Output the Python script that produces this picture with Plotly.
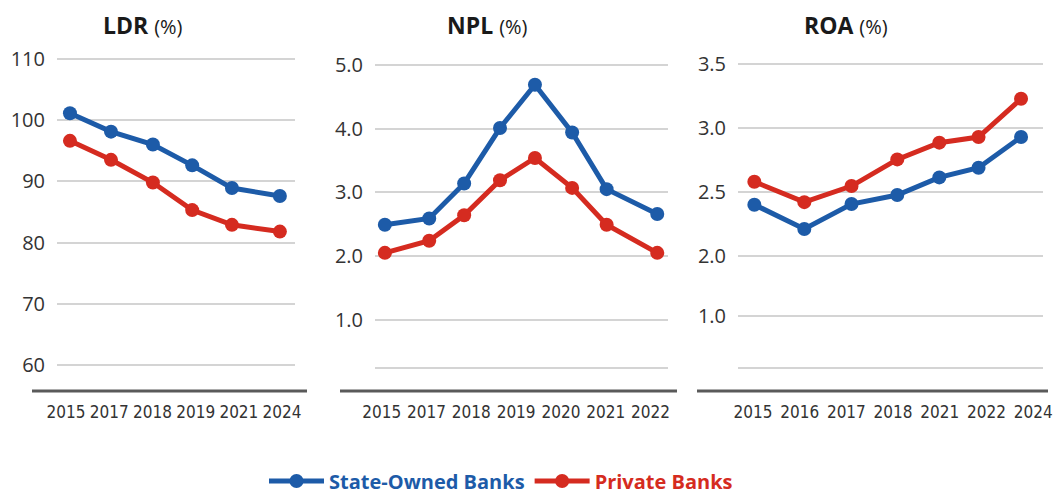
import plotly.graph_objects as go

W, H = 1054, 494

BLUE = "#1d5ba8"
RED = "#d52b20"

# ---------------- data ----------------
# LDR (%)
ldr_years = ["2015", "2017", "2018", "2019", "2021", "2024"]
ldr_x = [0.09, 1.04, 2.01, 2.92, 3.84, 4.95]          # point positions along the year axis
ldr_state = [101.1, 98.1, 96.0, 92.6, 88.9, 87.6]
ldr_private = [96.6, 93.5, 89.8, 85.3, 82.9, 81.8]
ldr_tickvals = [60, 70, 80, 90, 100, 110]
ldr_ticktext = ["60", "70", "80", "90", "100", "110"]

# NPL (%)
npl_years = ["2015", "2017", "2018", "2019", "2020", "2021", "2022"]
npl_x = [0.07, 1.06, 1.84, 2.64, 3.42, 4.25, 5.02, 6.15]
npl_state = [2.49, 2.59, 3.14, 4.01, 4.69, 3.94, 3.05, 2.66]
npl_private = [2.05, 2.24, 2.64, 3.19, 3.54, 3.07, 2.49, 2.05]
npl_tickvals = [0.24, 1, 2, 3, 4, 5]
npl_ticktext = ["", "1.0", "2.0", "3.0", "4.0", "5.0"]

# ROA (%)
roa_years = ["2015", "2016", "2017", "2018", "2021", "2022", "2024"]
roa_x = [0.03, 1.10, 2.11, 3.09, 3.99, 4.83, 5.74]
roa_state = [2.40, 2.21, 2.405, 2.476, 2.614, 2.69, 2.93]
roa_private = [2.58, 2.42, 2.546, 2.755, 2.886, 2.93, 3.23]
roa_tickvals = [1.122, 1.527, 2.0, 2.5, 3.0, 3.5]
roa_ticktext = ["", "1.0", "2.0", "2.5", "3.0", "3.5"]

series_names = ["State-Owned Banks", "Private Banks"]
titles = ["LDR", "NPL", "ROA"]

# ---------------- layout (pixels) ----------------
panels = [
    dict(px=(57, 295), xr=(-0.21, 5.30), yr=(55.8, 110.6), base=(32, 307), title_x=143,
         x=ldr_x, years=ldr_years, s=ldr_state, p=ldr_private, tv=ldr_tickvals, tt=ldr_ticktext),
    dict(px=(375, 668), xr=(-0.15, 6.39), yr=(-0.12, 5.157), base=(340, 677), title_x=487,
         x=npl_x, years=npl_years, s=npl_state, p=npl_private, tv=npl_tickvals, tt=npl_ticktext),
    dict(px=(738, 1043), xr=(-0.32, 6.21), yr=(0.94, 3.573), base=(697, 1048), title_x=846,
         x=roa_x, years=roa_years, s=roa_state, p=roa_private, tv=roa_tickvals, tt=roa_ticktext),
]
y_top_px, y_bot_px = 55, 391
ydom = [1 - y_bot_px / H, 1 - y_top_px / H]

fig = go.Figure()
layout = dict(
    template="none",
    width=W, height=H, autosize=False,
    margin=dict(l=0, r=0, t=0, b=0, pad=0, autoexpand=False),
    paper_bgcolor="white", plot_bgcolor="white",
    showlegend=True,
    legend=dict(orientation="h", xanchor="center", x=501 / W, yanchor="middle", y=1 - 481 / H,
                font=dict(family="Open Sans", size=20), itemwidth=55, tracegroupgap=0,
                bgcolor="rgba(0,0,0,0)", borderwidth=0),
)
shapes = []
annotations = []

for i, pn in enumerate(panels):
    k = "" if i == 0 else str(i + 1)
    xa, ya = "x" + k, "y" + k
    for vals, col, nm in [(pn["s"], BLUE, series_names[0]), (pn["p"], RED, series_names[1])]:
        fig.add_trace(go.Scatter(
            x=pn["x"], y=vals, mode="lines+markers", xaxis=xa, yaxis=ya,
            line=dict(color=col, width=5), marker=dict(color=col, size=14),
            name="<b><span style='color:%s'>%s</span></b>" % (col, nm),
            showlegend=(i == 0), hoverinfo="skip"))
    layout["xaxis" + k] = dict(
        domain=[pn["px"][0] / W, pn["px"][1] / W], range=list(pn["xr"]),
        tickvals=list(range(len(pn["years"]))), ticktext=pn["years"],
        showgrid=False, zeroline=False, showline=False, ticks="", automargin=False,
        tickfont=dict(family="Liberation Sans Narrow, DejaVu Sans Condensed", size=17, color="#333"),
        ticklabelstandoff=9, anchor=ya, fixedrange=True)
    layout["yaxis" + k] = dict(
        domain=ydom, range=list(pn["yr"]), tickvals=pn["tv"], ticktext=pn["tt"],
        showgrid=True, gridcolor="#d4d4d4", gridwidth=1.5, zeroline=False, showline=False,
        ticks="", automargin=False, tickfont=dict(family="Open Sans", size=20, color="#333"),
        ticklabelstandoff=11, anchor=xa, fixedrange=True)
    shapes.append(dict(type="line", xref="paper", yref="paper",
                       x0=pn["base"][0] / W, x1=pn["base"][1] / W,
                       y0=1 - y_bot_px / H, y1=1 - y_bot_px / H,
                       line=dict(color="#5a5a5a", width=3)))
    annotations.append(dict(
        xref="paper", yref="paper", x=pn["title_x"] / W, y=1 - 25 / H,
        xanchor="center", yanchor="middle", showarrow=False,
        text="<b>%s</b> <span style='font-size:20px'>(%%)</span>" % titles[i],
        font=dict(family="Open Sans", size=23, color="#1a1a1a")))

layout["shapes"] = shapes
layout["annotations"] = annotations
fig.update_layout(**layout)
fig.write_html("out.html", config={"responsive": False, "displayModeBar": False},
               post_script="document.body.style.margin='0';document.body.style.overflow='hidden';")
